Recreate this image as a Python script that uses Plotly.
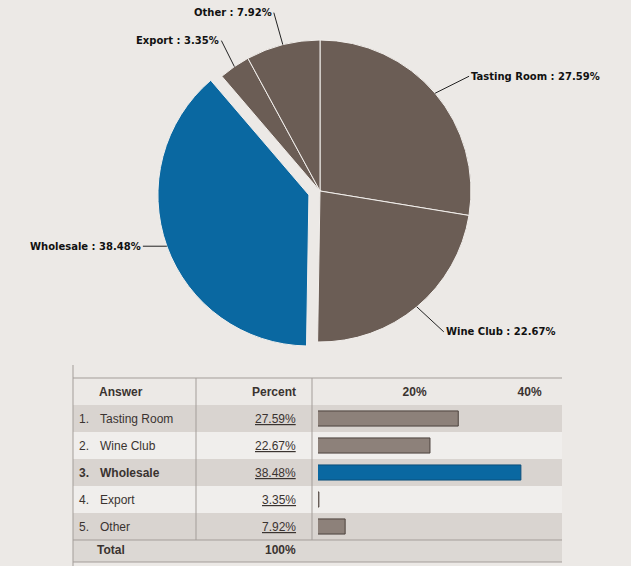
import math
import plotly.graph_objects as go

answers = ["Tasting Room", "Wine Club", "Wholesale", "Export", "Other"]
percents = [27.59, 22.67, 38.48, 3.35, 7.92]
axis_ticks = [20, 40]
axis_tick_labels = ["20%", "40%"]

W, H = 631, 566
BG = "#ece9e6"
BROWN = "#6b5d55"
BLUE = "#0a68a1"


def px(x):
    return x / W


def py(y):
    return 1 - y / H


# pie geometry (pixels)
cx, cy, R = 320, 191, 151
pull_amt = 0.078
top = max(percents)
pulls = [pull_amt if v == top else 0 for v in percents]
half = R * (1 + pull_amt)

pie_colors = [BLUE if v == top else BROWN for v in percents]

fig = go.Figure()
fig.add_trace(go.Pie(
    labels=answers, values=percents, sort=False, direction="clockwise",
    rotation=0, pull=pulls, textinfo="none", hoverinfo="label+percent",
    marker=dict(colors=pie_colors, line=dict(color="#f2efec", width=1)),
    domain=dict(x=[px(cx - half), px(cx + half)], y=[py(cy + half), py(cy - half)]),
    showlegend=False,
))

# leader-line labels, anchored at the slice's outer edge
label_offsets = [(34, -17, "left"), (27, 25, "left"), (-24, 0, "right"),
                 (-13, -26, "right"), (-9, -32, "right")]
total = sum(percents)
cum = 0
for name, v, p, (ax, ay, anchor) in zip(answers, percents, pulls, label_offsets):
    mid = math.radians(360 * (cum + v / 2) / total)
    cum += v
    r = R * (1 + p)
    ex = cx + r * math.sin(mid)
    ey = cy - r * math.cos(mid)
    fig.add_annotation(
        x=px(ex), y=py(ey), xref="paper", yref="paper",
        text=f"<b>{name} : {v:.2f}%</b>", showarrow=True, arrowhead=0,
        arrowwidth=1, arrowcolor="#222", ax=ax, ay=ay, xanchor=anchor,
        font=dict(family="DejaVu Sans", size=10, color="#111"),
    )

# bar column of the table
bar_colors = [BLUE if v == top else "#8d817a" for v in percents]
line_colors = ["#0d4f7a" if v == top else "#4b413c" for v in percents]
fig.add_trace(go.Bar(
    x=percents, y=list(range(len(answers))), orientation="h", width=0.56,
    marker=dict(color=bar_colors, line=dict(color=line_colors, width=1)),
    hoverinfo="x", showlegend=False,
))

row_top, row_h = 405, 27
rows_bottom = row_top + row_h * len(answers)
tbl_l, tbl_r = 73, 562
fig.update_layout(
    xaxis=dict(domain=[px(318), px(tbl_r)], range=[3.2, 45.63], side="top",
               tickvals=axis_ticks, ticktext=[f"<b>{t}</b>" for t in axis_tick_labels],
               showgrid=False, zeroline=False, ticks="", showline=False,
               ticklabelstandoff=6,
               tickfont=dict(family="Liberation Sans", size=12, color="#3a3330")),
    yaxis=dict(domain=[py(rows_bottom), py(row_top)], range=[len(answers) - 0.5, -0.5],
               showticklabels=False, showgrid=False, zeroline=False),
)

shapes = []
for i in range(len(answers)):
    shapes.append(dict(type="rect", xref="paper", yref="y", x0=px(tbl_l), x1=px(tbl_r),
                       y0=i - 0.5, y1=i + 0.5, layer="below", line=dict(width=0),
                       fillcolor="#d9d4d0" if i % 2 == 0 else "#f0eeec"))
# total row
shapes.append(dict(type="rect", xref="paper", yref="paper", x0=px(tbl_l), x1=px(tbl_r),
                   y0=py(562), y1=py(rows_bottom), layer="below", line=dict(width=0),
                   fillcolor="#dcd8d4"))
grid = "#a39d99"
for x0, y0, x1, y1 in [(tbl_l, 378, tbl_r, 378), (tbl_l, rows_bottom, tbl_r, rows_bottom),
                       (tbl_l, 562, tbl_r, 562), (tbl_l, 365, tbl_l, H),
                       (196, 378, 196, rows_bottom), (312, 378, 312, rows_bottom)]:
    shapes.append(dict(type="line", xref="paper", yref="paper", x0=px(x0), x1=px(x1),
                       y0=py(y0), y1=py(y1), line=dict(color=grid, width=1)))
fig.update_layout(shapes=shapes)

tfont = dict(family="Liberation Sans", size=12, color="#3a3330")
hfont = dict(family="Liberation Sans", size=12, color="#3a3330")
fig.add_annotation(x=px(97), y=py(392), xref="paper", yref="paper", text="<b>Answer</b>",
                   showarrow=False, xanchor="left", yanchor="middle", font=hfont)
fig.add_annotation(x=px(298), y=py(392), xref="paper", yref="paper", text="<b>Percent</b>",
                   showarrow=False, xanchor="right", yanchor="middle", font=hfont)
for i, (name, v) in enumerate(zip(answers, percents)):
    bold = v == top
    nm = f"<b>{name}</b>" if bold else name
    num = f"<b>{i + 1}.</b>" if bold else f"{i + 1}."
    fig.add_annotation(x=px(77), y=i, xref="paper", yref="y", text=num,
                       showarrow=False, xanchor="left", yanchor="middle", font=tfont)
    fig.add_annotation(x=px(98), y=i, xref="paper", yref="y", text=nm,
                       showarrow=False, xanchor="left", yanchor="middle", font=tfont)
    fig.add_annotation(x=px(298), y=i, xref="paper", yref="y", text=f"<u>{v:.2f}%</u>",
                       showarrow=False, xanchor="right", yanchor="middle", font=tfont)
fig.add_annotation(x=px(95), y=py(550), xref="paper", yref="paper", text="<b>Total</b>",
                   showarrow=False, xanchor="left", yanchor="middle", font=hfont)
fig.add_annotation(x=px(298), y=py(550), xref="paper", yref="paper",
                   text=f"<b>{round(total)}%</b>", showarrow=False, xanchor="right",
                   yanchor="middle", font=hfont)

fig.update_layout(
    width=W, height=H, margin=dict(l=0, r=0, t=0, b=0),
    paper_bgcolor=BG, plot_bgcolor="rgba(0,0,0,0)",
)

fig.write_html("out.html", config={"displayModeBar": False},
               post_script="document.body.style.margin='0';")
